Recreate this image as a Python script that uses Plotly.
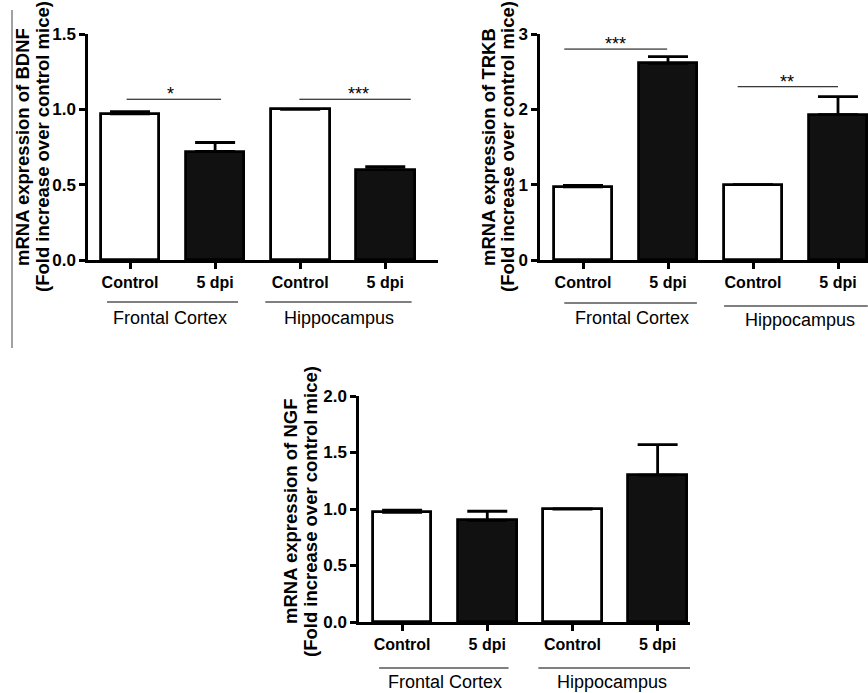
import plotly.graph_objects as go

W, H = 868, 693

# ---------------- data ----------------
categories = ["Control", "5 dpi", "Control", "5 dpi"]
groups = ["Frontal Cortex", "Hippocampus"]

bdnf_values = [0.97, 0.72, 1.00, 0.60]
bdnf_errors = [0.015, 0.06, 0.0, 0.02]
bdnf_sig = ["*", "***"]

trkb_values = [0.97, 2.61, 1.00, 1.93]
trkb_errors = [0.02, 0.09, 0.0, 0.24]
trkb_sig = ["***", "**"]

ngf_values = [0.97, 0.90, 1.00, 1.30]
ngf_errors = [0.02, 0.08, 0.0, 0.27]

bar_colors = ["white", "#111111", "white", "#111111"]
FONT = "Liberation Sans, Arial, sans-serif"


def px(x):
    return x / W


def py(y):
    return 1 - y / H


fig = go.Figure()
xs = [0, 1, 2, 3]

panels = [
    dict(vals=bdnf_values, errs=bdnf_errors, xa="x", ya="y"),
    dict(vals=trkb_values, errs=trkb_errors, xa="x2", ya="y2"),
    dict(vals=ngf_values, errs=ngf_errors, xa="x3", ya="y3"),
]
for p in panels:
    fig.add_trace(go.Bar(
        x=xs, y=p["vals"], width=0.69,
        marker=dict(color=bar_colors, line=dict(color="black", width=2.8)),
        error_y=dict(type="data", symmetric=False, array=p["errs"],
                     arrayminus=[0] * 4, color="black", thickness=2.8, width=20),
        xaxis=p["xa"], yaxis=p["ya"], showlegend=False, hoverinfo="skip",
    ))

axis_common = dict(showline=True, linecolor="black", linewidth=2.5,
                   ticks="outside", ticklen=6, tickwidth=2.5, tickcolor="black",
                   showgrid=False, zeroline=False, automargin=False,
                   tickfont=dict(family=FONT, size=17, color="black", weight="bold"))

xcommon = dict(axis_common, tickvals=xs, ticktext=categories,
               tickfont=dict(family=FONT, size=16, color="black", weight="bold"))

fig.update_layout(
    template="none",
    width=W, height=H, margin=dict(l=0, r=0, t=0, b=0, autoexpand=False),
    plot_bgcolor="white", paper_bgcolor="white", bargap=0,
    xaxis=dict(xcommon, domain=[px(88), px(438)], range=[-0.494, 3.62], anchor="y"),
    yaxis=dict(axis_common, domain=[py(260), py(34)], range=[0, 1.5],
               tickvals=[0, 0.5, 1.0, 1.5], tickformat=".1f", anchor="x"),
    xaxis2=dict(xcommon, domain=[px(540), 1.0], range=[-0.506, 3.353], anchor="y2"),
    yaxis2=dict(axis_common, domain=[py(260), py(34)], range=[0, 3],
                tickvals=[0, 1, 2, 3], anchor="x2"),
    xaxis3=dict(xcommon, domain=[px(359), px(690)], range=[-0.506, 3.38], anchor="y3"),
    yaxis3=dict(axis_common, domain=[py(622), py(396)], range=[0, 2.0],
                tickvals=[0, 0.5, 1.0, 1.5, 2.0], tickformat=".1f", anchor="x3"),
)

shapes = []
annotations = []

# significance bars
sig_defs = [
    ("x", "y", -0.04, 1.07, 1.067, 0.48, bdnf_sig[0]),
    ("x", "y", 1.99, 3.30, 1.067, 2.68, bdnf_sig[1]),
    ("x2", "y2", -0.22, 0.99, 2.80, 0.38, trkb_sig[0]),
    ("x2", "y2", 1.82, 3.00, 2.30, 2.40, trkb_sig[1]),
]
for xr, yr, x0, x1, yv, xs_, star in sig_defs:
    shapes.append(dict(type="line", xref=xr, yref=yr, x0=x0, x1=x1, y0=yv, y1=yv,
                       line=dict(color="black", width=1)))
    annotations.append(dict(xref=xr, yref=yr, x=xs_, y=yv, text=star, showarrow=False,
                            yanchor="bottom", yshift=-7,
                            font=dict(family=FONT, size=18, color="black")))

# group lines and labels
group_defs = [
    ("x", -0.27, 1.27, 302, 0.47, 318, groups[0]),
    ("x", 1.59, 3.31, 302, 2.46, 318, groups[1]),
    ("x2", -0.22, 1.34, 303, 0.58, 318, groups[0]),
    ("x2", 1.66, 3.35, 306, 2.55, 320, groups[1]),
    ("x3", -0.27, 1.25, 668, 0.50, 682, groups[0]),
    ("x3", 1.60, 3.41, 668, 2.47, 682, groups[1]),
]
for xr, x0, x1, ly, xl, ty, label in group_defs:
    shapes.append(dict(type="line", xref=xr, yref="paper", x0=x0, x1=x1,
                       y0=py(ly), y1=py(ly), line=dict(color="black", width=1)))
    annotations.append(dict(xref=xr, yref="paper", x=xl, y=py(ty), text=label,
                            showarrow=False, xanchor="center", yanchor="middle",
                            font=dict(family=FONT, size=18, color="black")))

# y-axis titles (two separate lines for tight spacing)
titles = [
    (22, 42, 147, "mRNA expression of BDNF"),
    (488, 507, 147, "mRNA expression of TRKB"),
    (290, 310, 512, "mRNA expression of NGF"),
]
for x1l, x2l, ty, t in titles:
    for tx, txt in ((x1l, t), (x2l, "(Fold increase over control mice)")):
        annotations.append(dict(xref="paper", yref="paper", x=px(tx), y=py(ty), text=txt,
                                textangle=-90, showarrow=False, xanchor="center",
                                yanchor="middle",
                                font=dict(family=FONT, size=18.5, color="black",
                                          weight="bold")))

# thin vertical rule at the left edge
shapes.append(dict(type="line", xref="paper", yref="paper", x0=px(12), x1=px(12),
                   y0=py(10), y1=py(348), line=dict(color="#444444", width=1)))

fig.update_layout(shapes=shapes, annotations=annotations)
fig.write_html(
    "out.html",
    config={"displayModeBar": False},
    post_script="document.body.style.margin='0';document.body.style.overflow='hidden';",
)
